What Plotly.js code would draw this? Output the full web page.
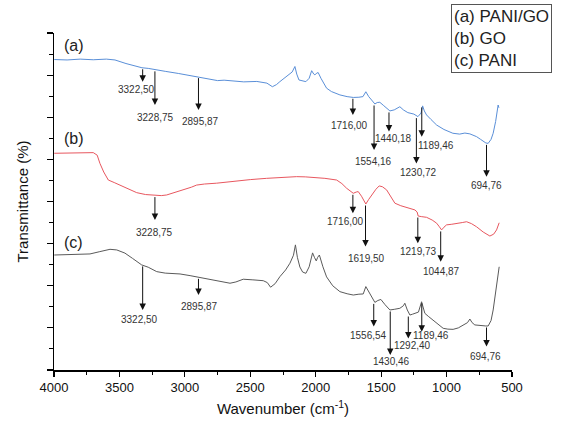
<!DOCTYPE html>
<html><head><meta charset="utf-8">
<script src="https://cdn.plot.ly/plotly-3.0.1.min.js"></script>
<style>html,body{margin:0;padding:0;background:#fff}</style>
</head><body><div id="chart" style="width:561px;height:427px"></div>
<script>
// (a) PANI/GO
const wnA=[3998,3900,3800,3700,3600,3534,3450,3380,3328,3280,3228,3150,3050,2960,2892,2820,2750,2700,2633,2550,2450,2373,2331,2300,2274,2220,2180,2159,2145,2128,2100,2075,2050,2031,2015,2006,1992,1981,1960,1940,1917,1880,1850,1815,1760,1713,1670,1639,1617,1595,1573,1548,1530,1510,1480,1433,1400,1357,1330,1296,1250,1219,1195,1183,1170,1153,1120,1076,1020,952,900,860,822,790,771,740,700,682,660,644,625,606,600];
const tA=[14.74,14.72,14.76,14.73,14.76,14.72,14.55,14.42,14.35,14.32,14.25,14.18,14.08,13.98,13.93,13.82,13.74,13.76,13.72,13.68,13.70,13.62,13.45,13.55,13.69,13.95,14.15,14.41,14.05,13.77,13.72,13.69,13.85,14.21,14.05,14.01,14.10,14.12,13.85,13.60,13.38,13.22,13.13,13.06,12.98,12.94,12.95,12.98,13.21,12.98,12.82,12.63,12.70,12.71,12.55,12.30,12.35,12.50,12.35,12.22,12.15,12.03,12.20,12.54,12.30,12.11,11.90,11.63,11.42,11.24,11.20,11.25,11.21,11.15,11.08,10.95,10.78,10.76,10.95,11.24,11.80,12.58,12.45];
// (b) GO
const wnB=[3998,3900,3800,3700,3670,3649,3620,3585,3540,3496,3430,3368,3300,3228,3180,3139,3080,3012,2950,2910,2850,2757,2680,2604,2500,2375,2250,2146,2080,2021,1930,1840,1800,1764,1713,1690,1675,1650,1617,1595,1573,1540,1515,1490,1458,1425,1395,1350,1306,1260,1242,1225,1217,1190,1153,1110,1076,1055,1038,1020,1000,960,924,880,847,810,771,720,669,640,618,605,598];
const tB=[10.29,10.31,10.30,10.32,10.20,9.81,9.40,9.02,8.90,8.78,8.60,8.42,8.33,8.28,8.28,8.31,8.42,8.55,8.68,8.78,8.83,8.87,8.93,8.99,9.04,9.10,9.15,9.18,9.17,9.15,9.10,9.02,8.85,8.63,8.39,8.45,8.47,8.25,7.88,8.10,8.31,8.58,8.74,8.70,8.55,8.25,7.92,7.80,7.73,7.65,7.60,7.50,7.31,7.28,7.25,7.12,6.97,6.80,6.65,6.78,6.89,6.92,6.97,7.00,7.04,6.95,6.80,6.55,6.36,6.45,6.65,6.95,6.99];
// (c) PANI
const wnC=[3998,3900,3800,3725,3650,3572,3520,3458,3400,3330,3280,3215,3150,3037,2960,2892,2820,2757,2700,2655,2610,2554,2480,2401,2370,2345,2310,2274,2230,2197,2170,2155,2140,2121,2100,2075,2050,2024,2010,1996,1985,1972,1945,1917,1870,1815,1760,1713,1670,1637,1617,1595,1573,1548,1525,1502,1470,1433,1400,1357,1330,1319,1300,1280,1260,1242,1215,1191,1180,1166,1140,1102,1060,1026,990,950,910,873,840,822,805,784,740,700,682,660,644,625,605,598];
const tC=[5.46,5.47,5.50,5.51,5.62,5.73,5.70,5.55,5.30,4.99,4.88,4.67,4.60,4.56,4.48,4.40,4.30,4.24,4.18,4.12,4.18,4.31,4.28,4.24,4.15,3.93,4.10,4.43,4.75,5.07,5.45,5.94,5.35,4.89,4.65,4.59,4.90,5.56,5.35,5.18,5.35,5.46,4.90,4.42,4.00,3.72,3.62,3.56,3.60,3.61,3.96,3.70,3.48,3.21,3.30,3.35,3.10,2.85,2.88,2.93,3.05,3.17,2.85,2.61,2.65,2.69,2.75,3.24,2.95,2.69,2.55,2.37,2.15,1.98,1.94,1.93,2.00,2.14,2.25,2.42,2.25,2.14,2.10,2.09,2.09,2.35,2.85,3.80,4.70,4.90];

// peak annotations
const peaksA=[3322.50,3228.75,2895.87,1716.00,1554.16,1440.18,1230.72,1189.46,694.76];
const labelsA=['3322,50','3228,75','2895,87','1716,00','1554,16','1440,18','1230,72','1189,46','694,76'];
const fromA=[14.35,14.25,13.93,12.95,12.63,12.30,12.03,12.54,10.76];
const toA=[13.69,12.58,12.35,12.11,10.45,11.32,9.81,11.08,9.18];
const labYA=[13.30,12.00,11.82,11.59,9.89,11.00,9.37,10.68,8.74];
const shiftA=[-6,1,2,-3,-1,5,2,14,0];

const peaksB=[3228.75,1716.00,1619.50,1219.73,1044.87];
const labelsB=['3228,75','1716,00','1619,50','1219,73','1044,87'];
const fromB=[8.28,8.39,7.88,7.31,6.65];
const toB=[7.12,7.44,5.86,6.02,5.14];
const labYB=[6.54,7.04,5.30,5.65,4.70];
const shiftB=[0,-7,1,1,1];

const peaksC=[3322.50,2895.87,1556.54,1430.46,1292.40,1189.46,694.76];
const labelsC=['3322,50','2895,87','1556,54','1430,46','1292,40','1189,46','694,76'];
const fromC=[4.99,4.40,3.21,2.85,2.61,3.24,2.09];
const toC=[2.85,3.56,2.06,0.71,1.50,1.82,1.11];
const labYC=[2.41,3.00,1.66,0.40,1.14,1.66,0.63];
const shiftC=[-3,1,-5,1,4,9,-1];

const curveNames=['(a)','(b)','(c)'];
const curveLabelY=[15.43,11.0,6.03];
const legendText='(a) PANI/GO<br>(b) GO<br>(c) PANI';

const FONT='Liberation Sans, Arial, sans-serif';
const traces=[
  {x:wnA,y:tA,mode:'lines',line:{color:'#5a8fd8',width:1},hoverinfo:'skip',showlegend:false},
  {x:wnB,y:tB,mode:'lines',line:{color:'#e8575f',width:1},hoverinfo:'skip',showlegend:false},
  {x:wnC,y:tC,mode:'lines',line:{color:'#5a5a5a',width:1},hoverinfo:'skip',showlegend:false}
];

const ann=[];
function addPeaks(peaks,labels,from,to,labY,shift){
  for(let i=0;i<peaks.length;i++){
    ann.push({x:peaks[i],y:to[i],ax:peaks[i],ay:from[i],xref:'x',yref:'y',axref:'x',ayref:'y',
      text:'',showarrow:true,arrowhead:2,arrowsize:1.3,arrowwidth:1,arrowcolor:'#111',standoff:0,startstandoff:0});
    ann.push({x:peaks[i],y:labY[i],xref:'x',yref:'y',text:labels[i],showarrow:false,xshift:shift[i],
      xanchor:'center',yanchor:'middle',font:{family:FONT,size:10,color:'#333'}});
  }
}
addPeaks(peaksA,labelsA,fromA,toA,labYA,shiftA);
addPeaks(peaksB,labelsB,fromB,toB,labYB,shiftB);
addPeaks(peaksC,labelsC,fromC,toC,labYC,shiftC);
for(let i=0;i<3;i++){
  ann.push({x:3940,y:curveLabelY[i],xref:'x',yref:'y',text:curveNames[i],showarrow:false,xanchor:'left',yanchor:'middle',
    font:{family:FONT,size:16,color:'#222'}});
}
ann.push({x:0.867,y:1.086,xref:'paper',yref:'paper',xanchor:'left',yanchor:'top',align:'left',showarrow:false,
  text:legendText,font:{family:FONT,size:17,color:'#222'},bordercolor:'#555',borderwidth:1,borderpad:2,bgcolor:'#fff'});

const layout={
  width:561,height:427,
  margin:{l:54,r:49,t:33,b:57},
  paper_bgcolor:'#fff',plot_bgcolor:'#fff',
  font:{family:FONT,color:'#111'},
  showlegend:false,
  xaxis:{range:[4000,500],autorange:false,showgrid:false,zeroline:false,showline:true,linecolor:'#000',linewidth:1.5,
    ticks:'outside',ticklen:5,tickwidth:1.2,tickcolor:'#000',dtick:500,tick0:500,
    minor:{dtick:250,ticks:'outside',ticklen:3,tickcolor:'#000',tickwidth:1},
    tickfont:{family:FONT,size:13,color:'#111'},
    title:{text:'Wavenumber (cm<sup>-1</sup>)',font:{family:FONT,size:15,color:'#111'},standoff:9}},
  yaxis:{range:[0,16],autorange:false,showgrid:false,zeroline:false,showline:true,linecolor:'#000',linewidth:1.5,
    ticks:'outside',ticklen:6,tickwidth:1.2,tickcolor:'#000',dtick:2,tick0:0,showticklabels:false,
    minor:{dtick:1,ticks:'outside',ticklen:4,tickcolor:'#000',tickwidth:1},
    title:{text:'Transmittance (%)',font:{family:FONT,size:15,color:'#111'},standoff:14}},
  annotations:ann
};
Plotly.newPlot('chart',traces,layout,{staticPlot:true,displayModeBar:false});
</script></body></html>
